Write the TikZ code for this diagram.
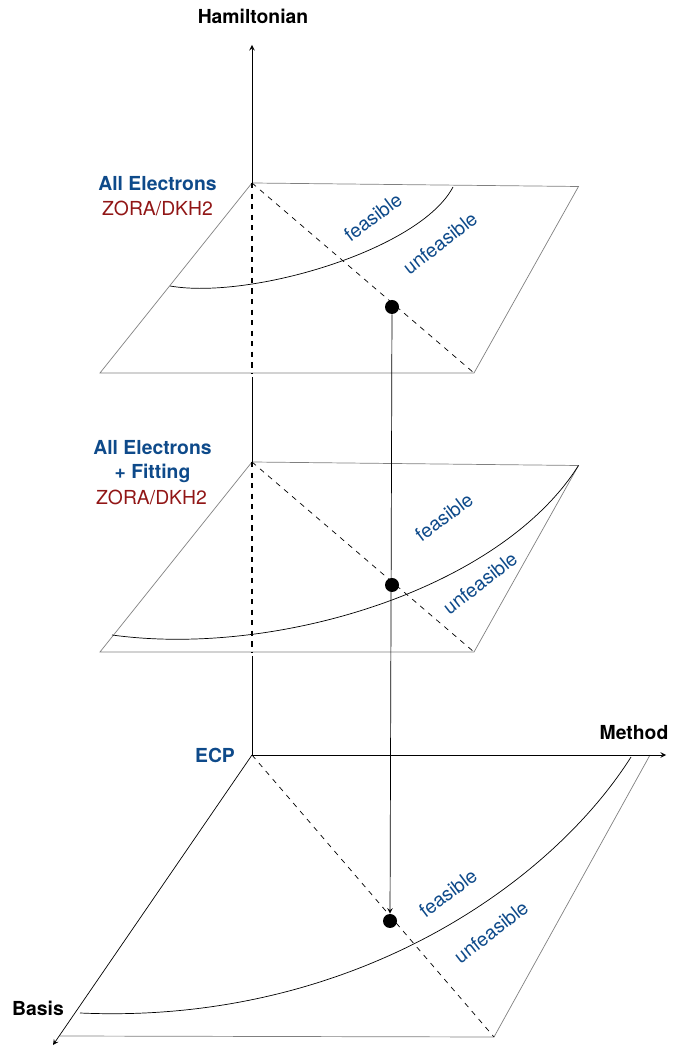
\documentclass[tikz,border=0pt]{standalone}
\usepackage{fontspec}
\setmainfont{TeX Gyre Heros}
\usetikzlibrary{positioning}

\definecolor{labblue}{RGB}{14,74,138}
\definecolor{labred}{RGB}{145,22,22}

\tikzset{
	plane/.style={black!50},
	diag/.style={dashed},
	hidden/.style={thick,dashed},
	dot/.style={circle,fill=black,inner sep=0pt,minimum size=2.8mm},
	axislab/.style={font=\bfseries},
	levellab/.style={font=\bfseries,text=labblue,align=center,inner sep=0pt},
	hamlab/.style={text=labred,inner sep=0pt},
	zone/.style={text=labblue,inner sep=0pt}
}

\begin{document}
\fontsize{11}{13.2}\selectfont
\begin{tikzpicture}[>=stealth]
	\useasboundingbox (0,0) rectangle (13.44,21.1);
	
	%the two upper levels: same lamina, shifted up
	\foreach \lvl/\ys in {top/13.64,mid/8.06}{
	\begin{scope}[yshift=\ys cm]
	\coordinate (\lvl-bl) at (5.04,3.8);
	\coordinate (\lvl-br) at (11.57,3.73);
	\coordinate (\lvl-fr) at (9.48,0);
	\coordinate (\lvl-fl) at (2.0,0);
	\coordinate (\lvl-foot) at (5.04,0);
	\draw[plane] (\lvl-bl) -- (\lvl-br) -- (\lvl-fr) -- (\lvl-fl) -- cycle;
	\draw[diag] (\lvl-bl) -- (\lvl-fr);
	\draw[hidden] (\lvl-bl) -- (\lvl-foot);
	\end{scope}
	}
	
	%bottom level (ECP) with the axes
	\coordinate (O) at (5.04,6.0);
	\coordinate (bot-br) at (13.0,6.0);
	\coordinate (bot-fr) at (9.88,0.36);
	\coordinate (bot-fl) at (1.2,0.38);
	\coordinate (Htip) at (5.04,20.2);
	\coordinate (Mtip) at (13.32,6.0);
	\coordinate (Btip) at (1.06,0.2);
	\draw[plane] (bot-br) -- (bot-fr) -- (bot-fl);
	\draw[diag] (O) -- (bot-fr);
	\draw[->] (O) -- (Mtip);
	\draw[->] (O) -- (Btip);
	
	%Hamiltonian axis, solid where seen
	\draw (O) -- ([yshift=-2pt]mid-foot);
	\draw (mid-bl) -- ([yshift=-2pt]top-foot);
	\draw[->] (top-bl) -- (Htip);
	
	\node[axislab] (ham) at (5.06,20.78) {Hamiltonian};
	\node[axislab] (meth) at (12.68,6.44) {Method};
	\node[axislab] (bas) at (0.76,0.94) {Basis};
	
	%level labels
	\node[levellab] (ecp) at (4.3,6.0) {ECP};
	\node[levellab] (ae) at (3.15,17.42) {All Electrons};
	\node[hamlab,below=0.48 of ae.center,anchor=center] (zora1) {ZORA/DKH2};
	\node[levellab] (aefit) at (3.05,11.87) {All Electrons\\+ Fitting};
	\node[hamlab] (zora2) at (3.03,11.16) {ZORA/DKH2};
	
	%feasibility borders
	\draw (3.4,15.38) .. controls (5,15.1) and (8.4,16.1) .. (9.06,17.36);
	\draw (2.24,8.4) .. controls (5.5,7.95) and (10,9.3) .. (mid-br);
	\draw (1.6,0.84) .. controls (7,0.6) and (11,3.4) .. (12.62,5.96);
	
	\node[zone,rotate=37] (f1) at (7.46,16.76) {feasible};
	\node[zone,rotate=38] (u1) at (8.8,16.24) {unfeasible};
	\node[zone,rotate=37] (f2) at (8.88,10.76) {feasible};
	\node[zone,rotate=38] (u2) at (9.6,9.44) {unfeasible};
	\node[zone,rotate=37] (f3) at (8.96,3.24) {feasible};
	\node[zone,rotate=38] (u3) at (9.82,2.46) {unfeasible};
	
	%the three calculations
	\node[dot] (d1) at (7.84,14.96) {};
	\node[dot] (d2) at (7.84,9.4) {};
	\node[dot] (d3) at (7.8,2.68) {};
	\draw[->] (d1) -- (d3);
\end{tikzpicture}
\end{document}
